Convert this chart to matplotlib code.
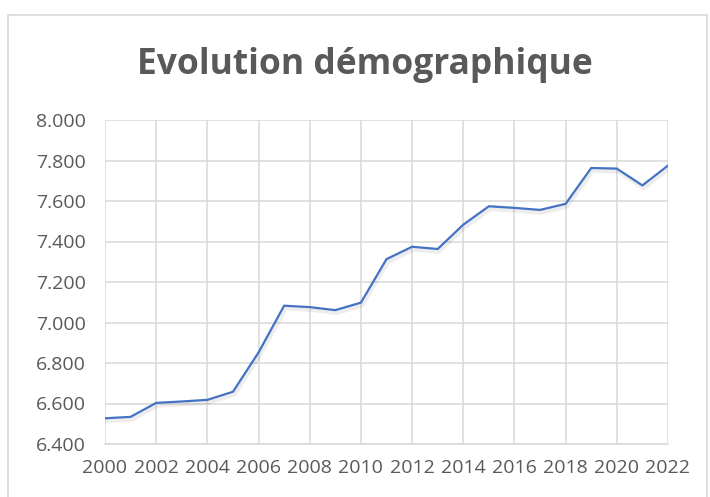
import numpy as np
import matplotlib.pyplot as plt
import matplotlib.patheffects as pe
from matplotlib.ticker import FuncFormatter, MultipleLocator
from matplotlib.patches import Rectangle

# population (thousands)
years = list(range(2000, 2023))
population = [6527, 6534, 6603, 6610, 6618, 6658, 6852, 7083, 7076, 7061, 7098,
              7313, 7374, 7363, 7483, 7574, 7566, 7556, 7586, 7763, 7760, 7677, 7775]

title = "Evolution démographique"
gray = "#595959"

fig = plt.figure(figsize=(7.10, 4.97), dpi=100)
ax = fig.add_axes([105/710, 1 - 444/497, (668 - 105)/710, (444 - 120)/497])

# outer chart frame
fig.patches.append(Rectangle((8/710, -0.05), (707 - 8)/710, 1.05 - 15/497,
                             transform=fig.transFigure, fill=False,
                             edgecolor="#d9d9d9", linewidth=1.2))

ax.plot(years, population, color="#4472C4", linewidth=1.6,
        path_effects=[pe.SimpleLineShadow(offset=(1, -2), shadow_color="#000000", alpha=0.07, linewidth=3),
                      pe.Normal()], zorder=3)

ax.set_xlim(2000, 2022)
ax.set_ylim(6400, 8000)
ax.xaxis.set_major_locator(MultipleLocator(2))
ax.yaxis.set_major_locator(MultipleLocator(200))
ax.yaxis.set_major_formatter(FuncFormatter(lambda v, p: f"{v:,.0f}".replace(",", ".")))

ax.grid(True, color="#d9d9d9", linewidth=1.1)
ax.set_axisbelow(True)
for s in ["top", "right", "left"]:
    ax.spines[s].set_visible(False)
ax.spines["bottom"].set_color("#d9d9d9")
ax.spines["bottom"].set_linewidth(1.1)

ax.tick_params(length=0, labelsize=14, labelcolor=gray)
ax.tick_params(axis="y", pad=14)
ax.tick_params(axis="x", pad=11)
for lab in ax.get_xticklabels() + ax.get_yticklabels():
    lab.set_fontfamily("Open Sans")

fig.text(365/710, 1 - 65/497, title, ha="center", va="center", fontsize=25.5,
         fontweight="bold", color=gray, family="Open Sans")

fig.savefig("out.png", dpi=100)
